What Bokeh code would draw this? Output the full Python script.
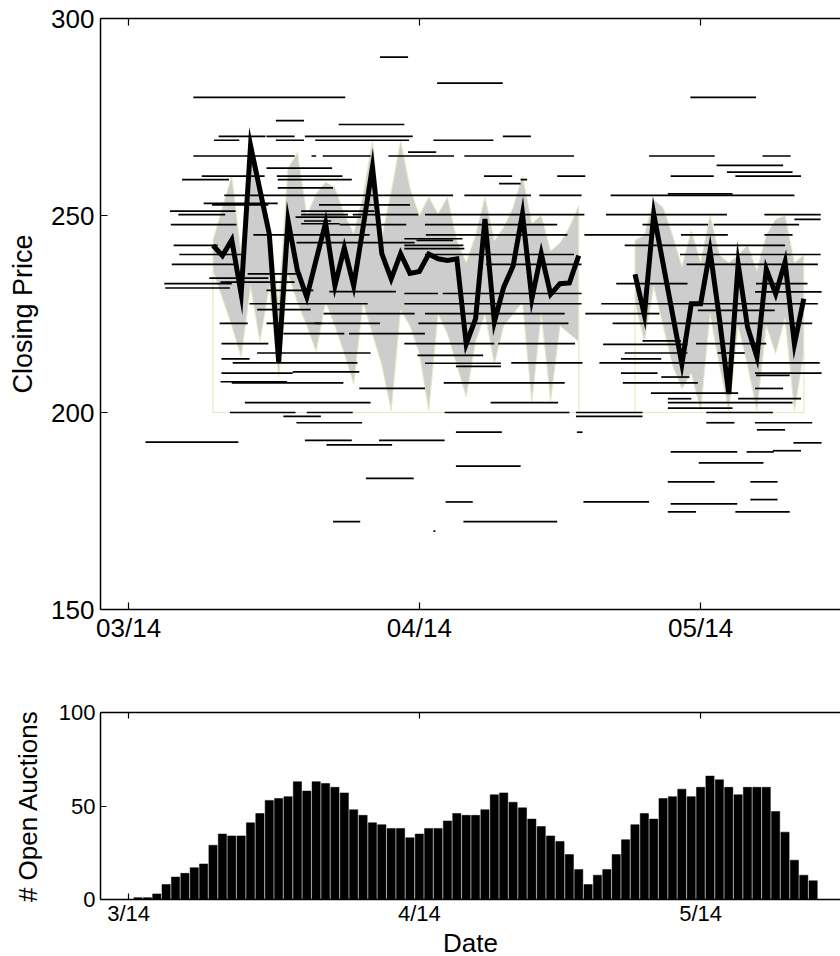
from bokeh.plotting import figure
from bokeh.layouts import column
from bokeh.models import FixedTicker, LinearAxis, Range1d
from bokeh.embed import file_html
from bokeh.resources import INLINE

FONT = "Liberation Sans"

# ---------------- data ----------------
# x values are days since 03/14
tick_days = [0, 31, 61]
top_tick_labels = ["03/14", "04/14", "05/14"]
bottom_tick_labels = ["3/14", "4/14", "5/14"]
price_ticks = [150, 200, 250, 300]
count_ticks = [0, 50, 100]
BASE = 200

# closing price (thick line), two runs of days
line1_days = list(range(9, 49))
line1_price = [242.4, 239.8, 243.8, 230.1, 267.8, 256.5, 245.3, 212.8, 248.7, 236.0,
               229.3, 238.8, 248.1, 232.2, 241.8, 232.2, 247.0, 262.3, 240.3, 233.9,
               240.3, 235.3, 235.8, 240.2, 239.0, 238.6, 239.0, 217.4, 223.8, 249.1,
               223.0, 231.8, 237.2, 250.4, 228.9, 240.3, 230.0, 232.7, 232.9, 239.8]
line1_hi = [243.7, 252, 260, 240, 270, 258, 248, 228, 262, 266,
            250, 255.5, 258.5, 257, 250.4, 245.4, 255, 269, 244.5, 256,
            269, 257, 250, 254.7, 250.4, 254.7, 243.6, 238, 245, 254.7,
            243.6, 247, 252, 260, 248, 250, 241, 243, 247, 252.5]
line1_lo = [236, 229, 222, 214, 232, 218, 232, 209, 235, 228,
            222, 215.5, 228, 222, 215, 207.3, 228, 220, 212, 200.5,
            226, 222, 215, 200.5, 225, 220, 212, 204, 218, 225,
            212.4, 222, 225, 228, 202.6, 225, 203, 222, 220, 218]

line2_days = list(range(54, 73))
line2_price = [235.1, 224.8, 250.4, 237.7, 225.0, 212.3, 227.6, 227.6, 241.1, 223.9,
               204.7, 237.7, 221.7, 214.1, 236.4, 230.1, 238.2, 217.4, 228.9]
line2_hi = [243.7, 245, 254, 252, 245, 237, 246.2, 238, 250, 240,
            238, 240, 242.4, 236, 245, 249, 250, 238, 240]
line2_lo = [228, 218, 232, 222, 212, 206, 210, 200.5, 225, 212,
            200.5, 222, 212, 200.5, 222, 215, 224, 200.5, 215]

# individual auctions: start day, end day, closing price
seg_start = [26.8, 32.9, 59.9, 6.9, 15.7, 22.4, 9.6, 14.7, 18.8, 39.9,
             9.1, 15.7, 19.9, 32.5, 6.9, 19.5, 20.7, 27.7, 35.8, 55.5,
             67.6, 29.8, 14.7, 62.7, 63.8, 7.8, 15.8, 37.9, 45.7, 57.8,
             64.7, 5.7, 15.9, 41.8, 39.5, 15.9, 10.2, 22.0, 35.8, 43.8,
             51.4, 57.5, 8.0, 8.9, 20.3, 4.4, 5.3, 18.4, 18.4, 23.9,
             31.6, 50.9, 67.8, 71.0, 17.8, 18.7, 4.5, 18.4, 22.5, 31.6,
             54.8, 62.4, 13.3, 31.7, 48.6, 58.9, 67.8, 29.4, 4.8, 17.9,
             30.7, 29.4, 52.9, 29.4, 5.4, 31.6, 58.8, 4.6, 38.1, 59.5,
             12.7, 8.6, 3.8, 3.9, 9.8, 14.7, 21.4, 52.0, 66.9, 29.4,
             33.5, 66.8, 12.9, 29.4, 50.4, 13.7, 20.8, 31.6, 48.7, 60.7,
             9.7, 14.7, 19.8, 30.9, 51.6, 16.5, 23.5, 50.6, 54.8, 9.9,
             29.4, 39.4, 60.5, 13.7, 30.8, 52.9, 52.5, 62.8, 9.9, 11.1,
             31.6, 40.8, 50.2, 34.9, 9.9, 17.5, 52.5, 56.8, 66.8, 66.9,
             9.8, 11.0, 33.6, 52.7, 24.6, 66.8, 55.7, 57.5, 65.0, 12.4,
             38.6, 57.5, 57.5, 10.8, 19.0, 33.7, 47.7, 47.7, 61.6, 16.5,
             17.9, 61.6, 66.8, 67.0, 34.9, 47.8, 1.8, 18.8, 26.7, 21.1,
             70.9, 57.8, 65.9, 68.7, 60.8, 34.9, 25.3, 57.5, 66.3, 33.8,
             48.5, 66.3, 57.8, 57.5, 64.7, 21.8, 35.7, 32.5]
seg_end = [29.8, 39.9, 66.9, 23.1, 18.7, 29.4, 14.6, 17.7, 30.3, 42.9,
           11.8, 18.7, 29.9, 38.9, 17.7, 20.0, 25.8, 34.7, 47.5, 62.5,
           70.6, 32.8, 21.7, 69.8, 70.8, 14.5, 22.8, 40.9, 48.7, 62.4,
           71.7, 10.7, 23.8, 42.5, 41.8, 21.8, 22.0, 34.6, 42.9, 48.3,
           71.0, 64.4, 15.9, 14.9, 30.0, 11.4, 10.3, 26.2, 23.4, 30.9,
           48.6, 63.8, 73.8, 73.8, 24.8, 21.6, 11.5, 22.5, 29.6, 45.7,
           61.8, 71.5, 25.7, 46.8, 55.6, 63.9, 70.8, 35.6, 9.5, 30.5,
           34.6, 35.7, 70.0, 35.8, 12.0, 47.5, 73.8, 11.3, 48.3, 73.5,
           18.4, 14.9, 11.0, 10.8, 17.7, 19.7, 28.5, 59.6, 72.4, 33.0,
           48.3, 73.9, 25.5, 48.3, 73.5, 19.4, 30.5, 46.5, 56.6, 68.9,
           12.7, 20.6, 26.8, 46.9, 72.9, 23.0, 31.6, 59.6, 58.9, 14.9,
           39.0, 47.6, 68.0, 25.8, 37.8, 59.6, 56.8, 65.7, 12.9, 24.4,
           39.7, 48.4, 73.7, 39.7, 17.5, 24.6, 56.4, 59.8, 73.9, 70.5,
           16.9, 22.9, 46.5, 60.7, 31.6, 69.8, 65.0, 60.0, 71.7, 25.8,
           45.8, 70.8, 64.4, 17.8, 23.9, 47.0, 54.8, 54.8, 68.7, 20.5,
           24.9, 64.6, 72.9, 70.0, 39.8, 48.4, 11.7, 23.8, 33.7, 28.1,
           73.9, 64.9, 68.8, 71.7, 67.7, 41.8, 30.4, 62.5, 69.2, 36.7,
           55.5, 69.2, 64.9, 60.5, 70.5, 24.7, 45.7, 32.7]
seg_price = [290.2, 283.6, 280.0, 280.0, 274.1, 273.1, 270.1, 270.1, 270.1, 270.1,
             269.1, 269.1, 269.1, 269.1, 265.1, 265.1, 265.1, 265.1, 265.1, 265.1,
             265.1, 266.1, 262.0, 262.7, 261.0, 260.0, 260.0, 260.0, 260.0, 260.0,
             260.0, 259.1, 259.1, 259.1, 258.1, 257.0, 255.1, 255.1, 255.1, 255.1,
             255.1, 255.5, 253.1, 252.7, 252.7, 251.1, 250.2, 251.1, 250.2, 250.2,
             250.2, 250.2, 250.2, 249.0, 249.6, 248.6, 247.7, 247.9, 247.7, 247.7,
             247.7, 247.7, 245.1, 245.1, 245.1, 245.1, 245.1, 244.1, 242.4, 243.1,
             243.7, 242.4, 242.4, 241.6, 240.1, 240.1, 240.1, 237.6, 237.6, 237.6,
             235.2, 234.1, 232.7, 231.6, 233.1, 231.0, 230.7, 232.7, 232.7, 230.2,
             230.2, 230.6, 227.6, 227.6, 227.6, 226.1, 225.1, 225.1, 225.1, 225.9,
             222.6, 222.6, 222.6, 222.6, 222.6, 220.0, 220.0, 217.3, 218.2, 217.5,
             217.5, 217.5, 217.5, 215.1, 214.5, 215.1, 213.6, 215.1, 213.6, 212.6,
             212.5, 212.6, 212.6, 211.7, 210.0, 210.3, 210.0, 209.0, 210.0, 209.4,
             207.8, 207.5, 207.5, 207.5, 206.1, 206.1, 204.9, 203.5, 203.5, 202.5,
             202.5, 202.5, 201.1, 200.0, 200.0, 200.0, 200.0, 199.0, 200.0, 199.0,
             197.4, 197.4, 197.4, 195.6, 195.0, 195.0, 192.5, 192.9, 192.9, 191.8,
             192.3, 190.0, 190.0, 190.3, 187.2, 186.4, 183.3, 182.4, 182.4, 177.3,
             177.3, 177.9, 176.8, 174.8, 174.8, 172.3, 172.3, 169.9]

# number of open auctions per day (days 1..73)
bar_days = list(range(1, 74))
open_counts = [1, 1, 3, 8, 12, 14, 17, 19, 29, 35,
               34, 34, 41, 46, 53, 54, 55, 63, 58, 63,
               62, 60, 57, 48, 45, 41, 40, 38, 38, 33,
               35, 38, 38, 42, 46, 45, 45, 48, 56, 57,
               52, 49, 43, 39, 34, 31, 24, 16, 8, 13,
               16, 24, 32, 40, 46, 43, 54, 55, 59, 55,
               60, 66, 64, 60, 56, 60, 60, 60, 47, 36,
               21, 13, 10]

EDGE = "#e9e9c0"
GRAY = "#cdcdcd"


def style_axis(ax, tick_font, label_font, tick_len):
    ax.axis_line_width = 1.5
    ax.axis_line_color = "black"
    ax.major_tick_in = tick_len
    ax.major_tick_out = 0
    ax.major_tick_line_width = 1.2
    ax.minor_tick_line_color = None
    ax.major_label_text_font = FONT
    ax.major_label_text_font_size = tick_font
    ax.major_label_text_color = "black"
    ax.axis_label_text_font = FONT
    ax.axis_label_text_font_size = label_font
    ax.axis_label_text_font_style = "normal"
    ax.axis_label_text_color = "black"


def build(p, xlabels, yticks, tick_font, label_font, tick_len):
    p.outline_line_color = None
    p.grid.visible = False
    xa = p.below[0]
    ya = p.left[0]
    xa.ticker = FixedTicker(ticks=tick_days)
    xa.major_label_overrides = dict(zip(tick_days, xlabels))
    ya.ticker = FixedTicker(ticks=yticks)
    style_axis(xa, tick_font, label_font, tick_len)
    style_axis(ya, tick_font, label_font, tick_len)
    top = LinearAxis(ticker=FixedTicker(ticks=tick_days), major_tick_in=tick_len,
                     major_tick_out=0, major_label_text_color=None,
                     major_label_text_font_size="6px",
                     major_label_standoff=0, minor_tick_line_color=None,
                     axis_line_width=1.5, major_tick_line_width=1.2)
    p.add_layout(top, "above")
    return xa, ya


# ---------------- top chart ----------------
p1 = figure(frame_width=744, frame_height=591,
            x_range=Range1d(-3, 76.34), y_range=Range1d(150, 300),
            output_backend="svg", toolbar_location=None,
            min_border_left=96, min_border_right=0, min_border_top=18,
            min_border_bottom=50, background_fill_color="white")
xa1, ya1 = build(p1, top_tick_labels, price_ticks, "26px", "27px", 7)
ya1.axis_label = "Closing Price"
ya1.major_label_standoff = 6
ya1.axis_label_standoff = 10
xa1.major_label_standoff = 3

for days, hi, lo in [(line1_days, line1_hi, line1_lo), (line2_days, line2_hi, line2_lo)]:
    xs = [days[0]] + days + [days[-1]]
    p1.patch(xs, [BASE] + hi + [BASE], fill_color=GRAY, line_color=EDGE, line_width=1)
    p1.patch(xs, [BASE] + lo + [BASE], fill_color="white", line_color=EDGE, line_width=1)

p1.segment(x0=seg_start, y0=seg_price, x1=seg_end, y1=seg_price,
           line_color="black", line_width=1.7)

for days, pr in [(line1_days, line1_price), (line2_days, line2_price)]:
    p1.line(days, pr, line_color="black", line_width=5, line_join="miter")

# ---------------- bottom chart ----------------
p2 = figure(frame_width=740, frame_height=187,
            x_range=Range1d(-3, 75.92), y_range=Range1d(0, 100),
            output_backend="svg", toolbar_location=None,
            min_border_left=100, min_border_right=0, min_border_top=53,
            min_border_bottom=56, background_fill_color="white")
xa2, ya2 = build(p2, bottom_tick_labels, count_ticks, "22px", "26px", 6)
ya2.axis_label = "# Open Auctions"
ya2.major_label_standoff = 5
ya2.axis_label_standoff = 13
xa2.axis_label = "Date"
xa2.major_label_standoff = 1
xa2.axis_label_standoff = -1

p2.vbar(x=bar_days, top=open_counts, width=0.88, bottom=0,
        fill_color="black", line_color="black", line_width=0.5)

layout = column(p1, p2, spacing=0)
open("out.html", "w").write(file_html(layout, INLINE))
